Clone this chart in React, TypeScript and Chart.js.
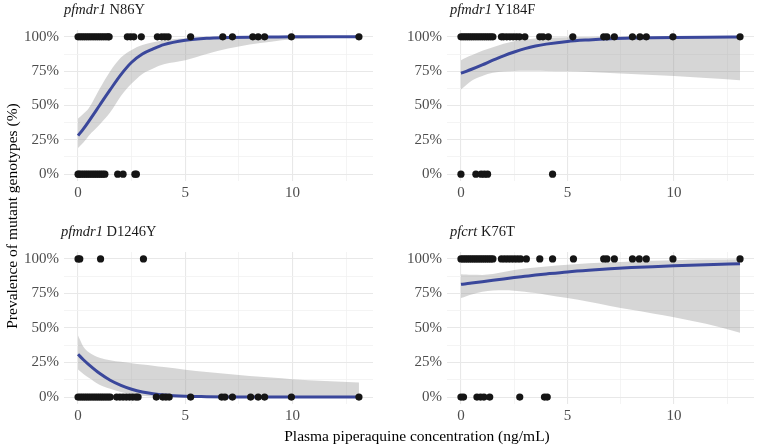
import React, { useEffect, useRef } from "react";
import { Chart, registerables } from "chart.js";
Chart.register(...registerables);

const FONT = '"Liberation Serif", "Times New Roman", serif';

// ---- axis ticks ----
const xGridTicks = [0, 2.5, 5, 7.5, 10, 12.5];
const xLabelTicks = [0, 5, 10];
const yGridTicks = [0, 0.125, 0.25, 0.375, 0.5, 0.625, 0.75, 0.875, 1];
const yLabelTicks = [0, 0.25, 0.5, 0.75, 1];

// ---- fitted curve sample positions (ng/mL) ----
const fitX = [0, 0.25, 0.5, 1, 1.5, 2, 2.5, 3, 3.5, 4, 5, 6, 7, 8, 9, 10, 11.5, 13.1];

// ---- pfmdr1 N86Y ----
const n86yMutant = [0, 0.1, 0.2, 0.3, 0.4, 0.5, 0.6, 0.7, 0.8, 0.9, 1.0, 1.1, 1.2, 1.3, 1.4, 1.45, 2.3, 2.45, 2.6, 2.95, 3.7, 3.9, 4.05, 4.2, 5.25, 6.75, 7.2, 8.15, 8.4, 8.7, 9.95, 13.1];
const n86yWild = [0, 0.05, 0.15, 0.25, 0.35, 0.45, 0.55, 0.65, 0.75, 0.85, 0.95, 1.05, 1.15, 1.25, 1.85, 2.1, 2.65, 2.72];
const n86yFit = [0.28, 0.33, 0.385, 0.5, 0.615, 0.725, 0.815, 0.875, 0.912, 0.943, 0.975, 0.99, 0.995, 0.998, 0.999, 1, 1, 1];
const n86yUpper = [0.405, 0.44, 0.48, 0.62, 0.75, 0.85, 0.905, 0.94, 0.96, 0.975, 0.99, 0.997, 0.999, 1, 1, 1, 1, 1];
const n86yLower = [0.19, 0.23, 0.28, 0.36, 0.45, 0.57, 0.66, 0.73, 0.77, 0.8, 0.83, 0.875, 0.915, 0.945, 0.965, 0.982, 0.99, 0.997];

// ---- pfmdr1 Y184F ----
const y184fMutant = [0, 0.1, 0.2, 0.3, 0.4, 0.5, 0.6, 0.7, 0.8, 0.9, 1.0, 1.1, 1.2, 1.3, 1.4, 1.5, 1.9, 2.0, 2.15, 2.3, 2.45, 2.6, 2.75, 3.0, 3.7, 3.85, 4.1, 5.25, 6.7, 6.85, 7.2, 8.05, 8.4, 8.7, 9.95, 13.1];
const y184fWild = [0, 0.7, 0.95, 1.1, 1.25, 4.3];
const y184fFit = [0.735, 0.749, 0.764, 0.796, 0.83, 0.862, 0.89, 0.914, 0.933, 0.947, 0.967, 0.978, 0.986, 0.991, 0.994, 0.996, 0.998, 0.999];
const y184fUpper = [0.83, 0.85, 0.866, 0.898, 0.925, 0.95, 0.968, 0.98, 0.988, 0.993, 0.997, 0.999, 1, 1, 1, 1, 1, 1];
const y184fLower = [0.617, 0.65, 0.68, 0.715, 0.738, 0.748, 0.752, 0.753, 0.753, 0.752, 0.749, 0.744, 0.737, 0.73, 0.722, 0.714, 0.7, 0.684];

// ---- pfmdr1 D1246Y ----
const d1246yMutant = [0, 0.08, 1.05, 3.05];
const d1246yWild = [0, 0.1, 0.2, 0.3, 0.4, 0.5, 0.6, 0.7, 0.8, 0.9, 1.0, 1.1, 1.2, 1.3, 1.4, 1.5, 1.8, 1.95, 2.1, 2.25, 2.4, 2.55, 2.7, 2.8, 3.65, 3.95, 4.1, 4.25, 5.25, 6.7, 6.85, 7.2, 8.05, 8.4, 8.7, 9.95, 13.1];
const d1246yFit = [0.31, 0.27, 0.235, 0.172, 0.122, 0.085, 0.057, 0.037, 0.024, 0.015, 0.006, 0.003, 0.001, 0, 0, 0, 0, 0];
const d1246yUpper = [0.445, 0.365, 0.325, 0.285, 0.267, 0.255, 0.245, 0.236, 0.227, 0.217, 0.198, 0.182, 0.167, 0.153, 0.141, 0.13, 0.117, 0.105];
const d1246yLower = [0.2, 0.168, 0.14, 0.09, 0.06, 0.036, 0.02, 0.01, 0.004, 0.001, 0, 0, 0, 0, 0, 0, 0, 0];

// ---- pfcrt K76T ----
const k76tMutant = [0, 0.1, 0.2, 0.3, 0.4, 0.5, 0.6, 0.7, 0.8, 0.9, 1.0, 1.1, 1.2, 1.3, 1.4, 1.5, 1.9, 2.05, 2.2, 2.35, 2.5, 2.65, 2.8, 3.07, 3.7, 4.3, 5.28, 6.7, 6.85, 7.2, 8.05, 8.37, 8.7, 9.95, 13.1];
const k76tWild = [0, 0.12, 0.75, 0.92, 1.08, 1.35, 2.76, 3.92, 4.05];
const k76tFit = [0.816, 0.82, 0.825, 0.835, 0.845, 0.855, 0.865, 0.874, 0.883, 0.891, 0.906, 0.918, 0.928, 0.937, 0.944, 0.95, 0.958, 0.965];
const k76tUpper = [0.889, 0.887, 0.885, 0.884, 0.89, 0.905, 0.92, 0.93, 0.938, 0.945, 0.958, 0.968, 0.976, 0.982, 0.987, 0.99, 0.995, 0.998];
const k76tLower = [0.717, 0.73, 0.742, 0.762, 0.771, 0.773, 0.77, 0.763, 0.753, 0.741, 0.717, 0.69, 0.66, 0.632, 0.605, 0.578, 0.53, 0.466];

const panels = [
  { gene: "pfmdr1", mut: "N86Y", mutant: n86yMutant, wild: n86yWild, fit: n86yFit, upper: n86yUpper, lower: n86yLower },
  { gene: "pfmdr1", mut: "Y184F", mutant: y184fMutant, wild: y184fWild, fit: y184fFit, upper: y184fUpper, lower: y184fLower },
  { gene: "pfmdr1", mut: "D1246Y", mutant: d1246yMutant, wild: d1246yWild, fit: d1246yFit, upper: d1246yUpper, lower: d1246yLower },
  { gene: "pfcrt", mut: "K76T", mutant: k76tMutant, wild: k76tWild, fit: k76tFit, upper: k76tUpper, lower: k76tLower },
];

// canvas boxes: l, t, w, h, padRight
const boxes = [
  { l: 14, t: 0, w: 366, h: 205, pr: 7 },
  { l: 397, t: 0, w: 361, h: 205, pr: 2 },
  { l: 14, t: 222, w: 366, h: 206, pr: 7 },
  { l: 397, t: 222, w: 361, h: 206, pr: 2 },
];
const titlePos = [
  { l: 64, t: 0 },
  { l: 450, t: 0 },
  { l: 61, t: 222 },
  { l: 450, t: 222 },
];

const AXIS_W = 50;
const AXIS_H = 24;
const PAD_TOP = 30;

function isMajorX(v: number) {
  return xLabelTicks.some((t) => Math.abs(t - v) < 1e-6);
}
function isMajorY(v: number) {
  return yLabelTicks.some((t) => Math.abs(t - v) < 1e-6);
}

function Panel({ idx }: { idx: number }) {
  const ref = useRef<HTMLCanvasElement>(null);
  const p = panels[idx];
  const b = boxes[idx];
  useEffect(() => {
    const pts = (arr: number[], y: number) => arr.map((x) => ({ x, y }));
    const curve = (arr: number[]) => fitX.map((x, i) => ({ x, y: arr[i] }));
    const chart = new Chart(ref.current as HTMLCanvasElement, {
      type: "line",
      data: {
        datasets: [
          {
            type: "scatter",
            data: pts(p.mutant, 1),
            backgroundColor: "#151515",
            borderWidth: 0,
            pointRadius: 3.6,
            showLine: false,
          } as any,
          {
            type: "scatter",
            data: pts(p.wild, 0),
            backgroundColor: "#151515",
            borderWidth: 0,
            pointRadius: 3.6,
            showLine: false,
          } as any,
          {
            data: curve(p.fit),
            borderColor: "#3a479b",
            borderWidth: 3,
            pointRadius: 0,
            fill: false,
            cubicInterpolationMode: "monotone",
          },
          {
            data: curve(p.upper),
            borderWidth: 0,
            borderColor: "rgba(0,0,0,0)",
            backgroundColor: "rgba(153,153,153,0.4)",
            pointRadius: 0,
            fill: "+1",
            cubicInterpolationMode: "monotone",
          },
          {
            data: curve(p.lower),
            borderWidth: 0,
            borderColor: "rgba(0,0,0,0)",
            pointRadius: 0,
            fill: false,
            cubicInterpolationMode: "monotone",
          },
        ],
      },
      options: {
        responsive: false,
        maintainAspectRatio: false,
        animation: false,
        events: [],
        layout: { padding: { top: PAD_TOP, right: b.pr, left: 0, bottom: 0 } },
        plugins: { legend: { display: false }, tooltip: { enabled: false }, title: { display: false } },
        scales: {
          x: {
            type: "linear",
            min: -0.655,
            max: 13.755,
            border: { display: false },
            afterBuildTicks: (axis: any) => {
              axis.ticks = xGridTicks.map((value) => ({ value }));
            },
            afterFit: (axis: any) => {
              axis.height = AXIS_H;
            },
            grid: {
              drawTicks: false,
              color: (ctx: any) => (isMajorX(ctx.tick.value) ? "#e8e8e8" : "#f1f1f1"),
              lineWidth: (ctx: any) => (isMajorX(ctx.tick.value) ? 1.1 : 0.8),
            },
            ticks: {
              padding: 3,
              autoSkip: false,
              maxRotation: 0,
              color: "#4d4d4d",
              font: { family: FONT, size: 15 },
              callback: (v: any) => (isMajorX(Number(v)) ? String(v) : ""),
            },
          },
          y: {
            type: "linear",
            min: -0.05,
            max: 1.05,
            border: { display: false },
            afterBuildTicks: (axis: any) => {
              axis.ticks = yGridTicks.map((value) => ({ value }));
            },
            afterFit: (axis: any) => {
              axis.width = AXIS_W;
            },
            grid: {
              drawTicks: false,
              color: (ctx: any) => (isMajorY(ctx.tick.value) ? "#e8e8e8" : "#f1f1f1"),
              lineWidth: (ctx: any) => (isMajorY(ctx.tick.value) ? 1.1 : 0.8),
            },
            ticks: {
              padding: 5,
              autoSkip: false,
              color: "#4d4d4d",
              font: { family: FONT, size: 15 },
              callback: (v: any) => (isMajorY(Number(v)) ? `${Math.round(Number(v) * 100)}%` : ""),
            },
          },
        },
      },
    } as any);
    return () => chart.destroy();
  }, []);
  return (
    <canvas
      ref={ref}
      width={b.w}
      height={b.h}
      style={{ position: "absolute", left: b.l, top: b.t, width: b.w, height: b.h }}
    />
  );
}

export default function App() {
  return (
    <div
      style={{
        position: "absolute",
        left: 0,
        top: 0,
        width: 758,
        height: 445,
        background: "#ffffff",
        overflow: "hidden",
        fontFamily: FONT,
      }}
    >
      {panels.map((p, i) => (
        <Panel key={i} idx={i} />
      ))}
      {panels.map((p, i) => (
        <div
          key={"t" + i}
          style={{
            position: "absolute",
            left: titlePos[i].l,
            top: titlePos[i].t,
            fontSize: 14.5,
            lineHeight: "18px",
            color: "#1a1a1a",
            whiteSpace: "nowrap",
          }}
        >
          <i>{p.gene}</i> {p.mut}
        </div>
      ))}
      <div
        style={{
          position: "absolute",
          left: 12 - 200,
          top: 216 - 9,
          width: 400,
          height: 18,
          lineHeight: "18px",
          fontSize: 15.5,
          textAlign: "center",
          color: "#000",
          transform: "rotate(-90deg)",
          whiteSpace: "nowrap",
        }}
      >
        Prevalence of mutant genotypes (%)
      </div>
      <div
        style={{
          position: "absolute",
          left: 417 - 200,
          top: 427,
          width: 400,
          lineHeight: "18px",
          fontSize: 15.5,
          textAlign: "center",
          color: "#000",
          whiteSpace: "nowrap",
        }}
      >
        Plasma piperaquine concentration (ng/mL)
      </div>
    </div>
  );
}
